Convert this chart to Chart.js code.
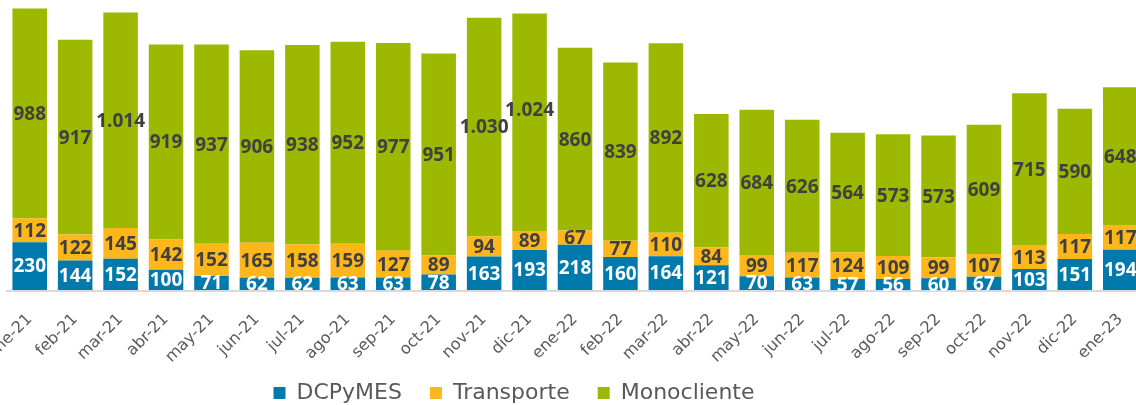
<!DOCTYPE html>
<html>
<head>
<meta charset="utf-8">
<script src="https://cdn.jsdelivr.net/npm/chart.js@4/dist/chart.umd.min.js"></script>
<style>
  html, body { margin: 0; padding: 0; overflow: hidden; background: #fff; }
  #wrap { width: 1150px; height: 405px; }
</style>
</head>
<body>
<div id="wrap"><canvas id="grafico" width="1150" height="405"></canvas></div>
<script>
const meses = ['ene-21', 'feb-21', 'mar-21', 'abr-21', 'may-21', 'jun-21', 'jul-21', 'ago-21', 'sep-21', 'oct-21', 'nov-21', 'dic-21',
  'ene-22', 'feb-22', 'mar-22', 'abr-22', 'may-22', 'jun-22', 'jul-22', 'ago-22', 'sep-22', 'oct-22', 'nov-22', 'dic-22', 'ene-23'];
const dcpymes = [230, 144, 152, 100, 71, 62, 62, 63, 63, 78, 163, 193, 218, 160, 164, 121, 70, 63, 57, 56, 60, 67, 103, 151, 194];
const transporte = [112, 122, 145, 142, 152, 165, 158, 159, 127, 89, 94, 89, 67, 77, 110, 84, 99, 117, 124, 109, 99, 107, 113, 117, 117];
const monocliente = [988, 917, 1014, 919, 937, 906, 938, 952, 977, 951, 1030, 1024, 860, 839, 892, 628, 684, 626, 564, 573, 573, 609, 715, 590, 648];

// miles con punto, como en el original
function fmt(v) {
  if (v < 1000) return String(v);
  return Math.floor(v / 1000) + '.' + String(v % 1000).padStart(3, '0');
}

// etiquetas dentro de cada tramo
const etiquetas = {
  id: 'etiquetas',
  afterDatasetsDraw(chart) {
    const ctx = chart.ctx;
    const area = chart.chartArea;
    ctx.save();
    ctx.beginPath();
    ctx.rect(area.left, area.top, area.right - area.left, area.bottom - area.top);
    ctx.clip();
    ctx.font = 'bold 19px "Open Sans"';
    ctx.textAlign = 'center';
    ctx.textBaseline = 'middle';
    chart.data.datasets.forEach((ds, i) => {
      const meta = chart.getDatasetMeta(i);
      ctx.fillStyle = i === 0 ? '#ffffff' : '#404040';
      meta.data.forEach((bar, j) => {
        let y = (bar.y + bar.base) / 2 + 1;
        if (i === 2 && j === 11) y -= 13; // el de dic-21 va algo más arriba
        ctx.fillText(fmt(ds.data[j]), bar.x, y);
      });
    });
    ctx.restore();
  }
};

// mueve la leyenda a donde cae en la imagen y deja sitio a las etiquetas del eje
const ajustes = {
  id: 'ajustes',
  afterLayout(chart) {
    const lg = chart.legend;
    lg.left -= 61; lg.right -= 61;
    lg.top += 9; lg.bottom += 9;
    chart.scales.x.bottom = chart.height;
  }
};

const ctx = document.getElementById('grafico').getContext('2d');
new Chart(ctx, {
  type: 'bar',
  data: {
    labels: meses,
    datasets: [
      { label: 'DCPyMES', data: dcpymes, backgroundColor: '#0079AD' },
      { label: 'Transporte', data: transporte, backgroundColor: '#FDB71B' },
      { label: 'Monocliente', data: monocliente, backgroundColor: '#9CB800' }
    ]
  },
  options: {
    responsive: false,
    animation: false,
    layout: { padding: { left: 7, right: 7, top: 0, bottom: 0 } },
    datasets: { bar: { categoryPercentage: 1, barPercentage: 0.76 } },
    scales: {
      x: {
        stacked: true,
        grid: { display: false, drawTicks: false },
        border: { display: true, color: '#d9d9d9', width: 2 },
        ticks: {
          autoSkip: false, minRotation: 45, maxRotation: 45, padding: 19,
          color: '#595959', font: { family: 'DejaVu Sans', size: 16 }
        },
        afterFit(s) { s.height = 54; s.paddingLeft = 0; s.paddingRight = 0; }
      },
      y: {
        stacked: true,
        min: 0, max: 1370,
        ticks: { display: false, stepSize: 200 },
        afterBuildTicks(axis) { axis.ticks = axis.ticks.filter(t => t.value % 200 === 0); },
        grid: { color: '#dcdcdc', lineWidth: 2, drawTicks: false },
        border: { display: false, dash: [7, 4] }
      }
    },
    plugins: {
      tooltip: { enabled: false },
      legend: {
        position: 'bottom',
        labels: {
          boxWidth: 12, boxHeight: 12, padding: 28,
          color: '#595959', font: { family: 'DejaVu Sans', size: 22 }
        }
      }
    }
  },
  plugins: [etiquetas, ajustes]
});
</script>
</body>
</html>
